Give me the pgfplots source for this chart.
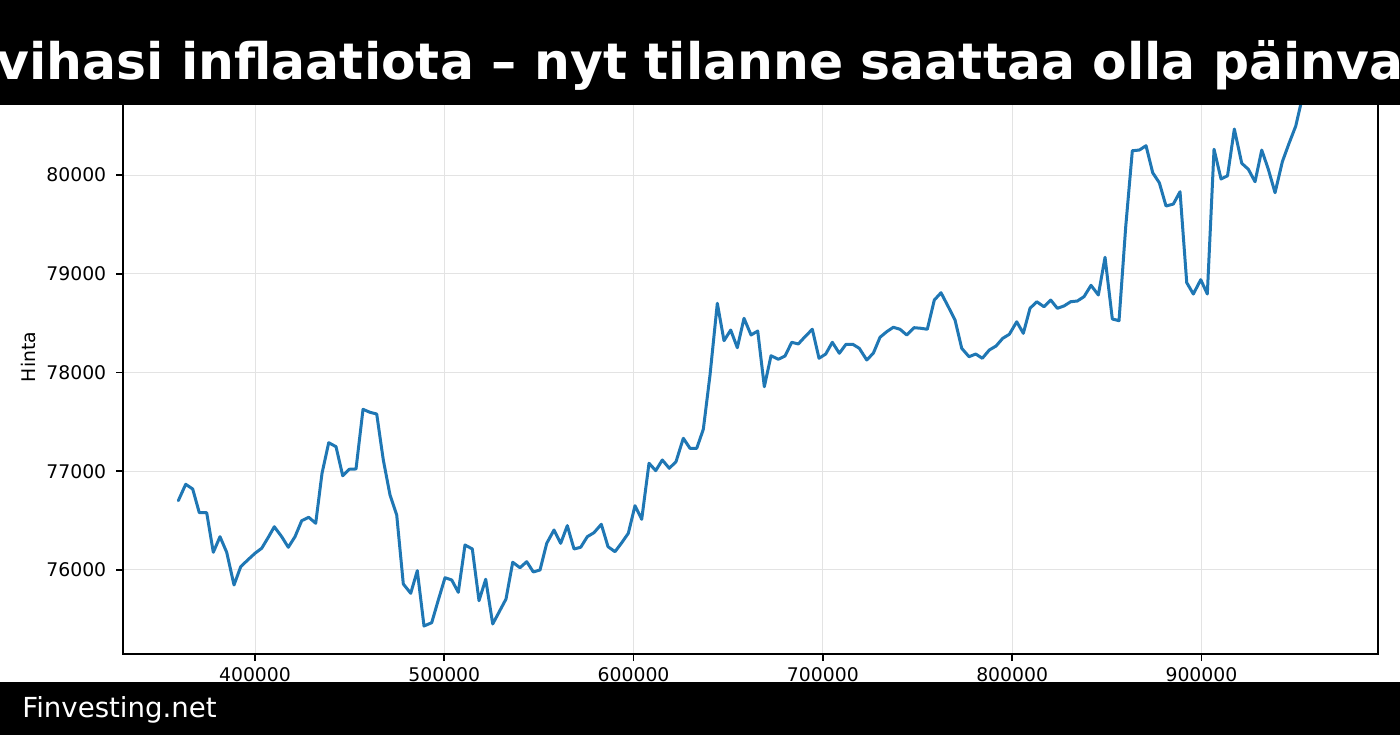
\documentclass[border=0pt]{standalone}
\usepackage{pgfplots}
\pgfplotsset{compat=1.18}
\usepackage{fontspec}
\setmainfont{DejaVu Sans}
\definecolor{mplblue}{HTML}{1F77B4}
\pgfplotstableread{
x y
359480 76702
363390 76868
367090 76820
370570 76580
374480 76580
377970 76179
381510 76337
385050 76179
388910 75848
392450 76033
396140 76101
400000 76169
403540 76220
407030 76331
410200 76438
414110 76337
417590 76230
421130 76337
424670 76499
428370 76534
432070 76473
435400 76979
438940 77289
442790 77249
446330 76955
449820 77020
453360 77023
457060 77627
460750 77597
464290 77580
467780 77114
471320 76760
474860 76557
478350 75858
482260 75764
485740 75993
489280 75433
493350 75466
496840 75696
500380 75922
503920 75899
507400 75774
510940 76253
514800 76213
518340 75689
521880 75906
525580 75453
529060 75578
532600 75706
536140 76078
540000 76023
543540 76084
547030 75980
550570 76000
554110 76270
557960 76405
561500 76270
564990 76449
568530 76213
572070 76230
575550 76337
579090 76378
582950 76463
586490 76236
590190 76185
593730 76276
597220 76372
600750 76651
604290 76513
608150 77081
611690 77006
615170 77114
618870 77030
622410 77097
626270 77334
629810 77232
633350 77232
636840 77425
640380 77975
644230 78701
647770 78322
651310 78430
654800 78251
658340 78549
662040 78380
665580 78420
669070 77856
672600 78170
676460 78134
680000 78167
683540 78306
687030 78289
690570 78363
694420 78438
697960 78144
701500 78187
704990 78306
708690 78195
712230 78286
715770 78286
719250 78245
723160 78127
726650 78195
730190 78357
733720 78413
737210 78458
740750 78438
744290 78380
748140 78454
751680 78448
755170 78438
758870 78734
762410 78808
766260 78666
769810 78532
773350 78245
777210 78160
780750 78187
784230 78144
787930 78228
791470 78268
795010 78346
798500 78387
802410 78514
805890 78397
809430 78650
812970 78717
816830 78666
820370 78734
823860 78650
827390 78674
830930 78717
834420 78724
837960 78768
841660 78883
845520 78785
849060 79167
852910 78542
856450 78525
859990 79477
863480 80246
867180 80253
870720 80297
874250 80023
877740 79922
881280 79686
885140 79706
888680 79831
892220 78910
895710 78795
899620 78940
903100 78795
906640 80261
910340 79960
913770 79992
917370 80466
921280 80119
924770 80058
928300 79932
931840 80253
935330 80058
938870 79821
942730 80135
946270 80321
949810 80496
952980 80760
956300 80881
}\pricedata
\begin{document}
\begin{tikzpicture}[x=1pt,y=1pt]
\clip (0,0) rectangle (700,367.5);
\fill[white] (0,0) rectangle (700,367.5);
\begin{axis}[
  at={(61.5pt,40.5pt)}, anchor=south west, scale only axis,
  width=627.5pt, height=297pt,
  xmin=330264, xmax=993270, ymin=75149, ymax=81165,
  xtick={400000,500000,600000,700000,800000,900000},
  xticklabels={400000,500000,600000,700000,800000,900000},
  ytick={76000,77000,78000,79000,80000},
  yticklabels={76000,77000,78000,79000,80000},
  scaled ticks=false,
  tick label style={font=\fontsize{9.4}{11}\selectfont},
  xticklabel style={inner sep=0pt, anchor=north, yshift=-3pt},
  yticklabel style={inner sep=0pt, anchor=east, xshift=-4.7pt},
  tick align=outside, major tick length=3.5pt,
  xtick pos=bottom, ytick pos=left,
  tick style={black, line width=0.8pt},
  axis line style={black, line width=0.8pt},
  grid=major,
  major grid style={color=black!11, line width=0.5pt},
  ylabel={Hinta},
  every axis y label/.style={at={(axis description cs:0,0.5)}, xshift=-47.5pt, rotate=90, anchor=center, font=\fontsize{9.4}{11}\selectfont},
]
\addplot[mplblue, line width=1.5pt, line join=round, line cap=round] table[x=x,y=y] {\pricedata};
\end{axis}
\fill[black] (0,315) rectangle (700,367.5);
\node[anchor=base, text=white, inner sep=0pt, font=\fontsize{25.2}{30}\selectfont\bfseries] at (350,327.5) {vihasi inflaatiota – nyt tilanne saattaa olla päinva};
\fill[black] (0,0) rectangle (700,26.5);
\node[anchor=base west, text=white, inner sep=0pt, font=\fontsize{13.8}{16}\selectfont] at (11,9) {Finvesting.net};
\end{tikzpicture}
\end{document}
